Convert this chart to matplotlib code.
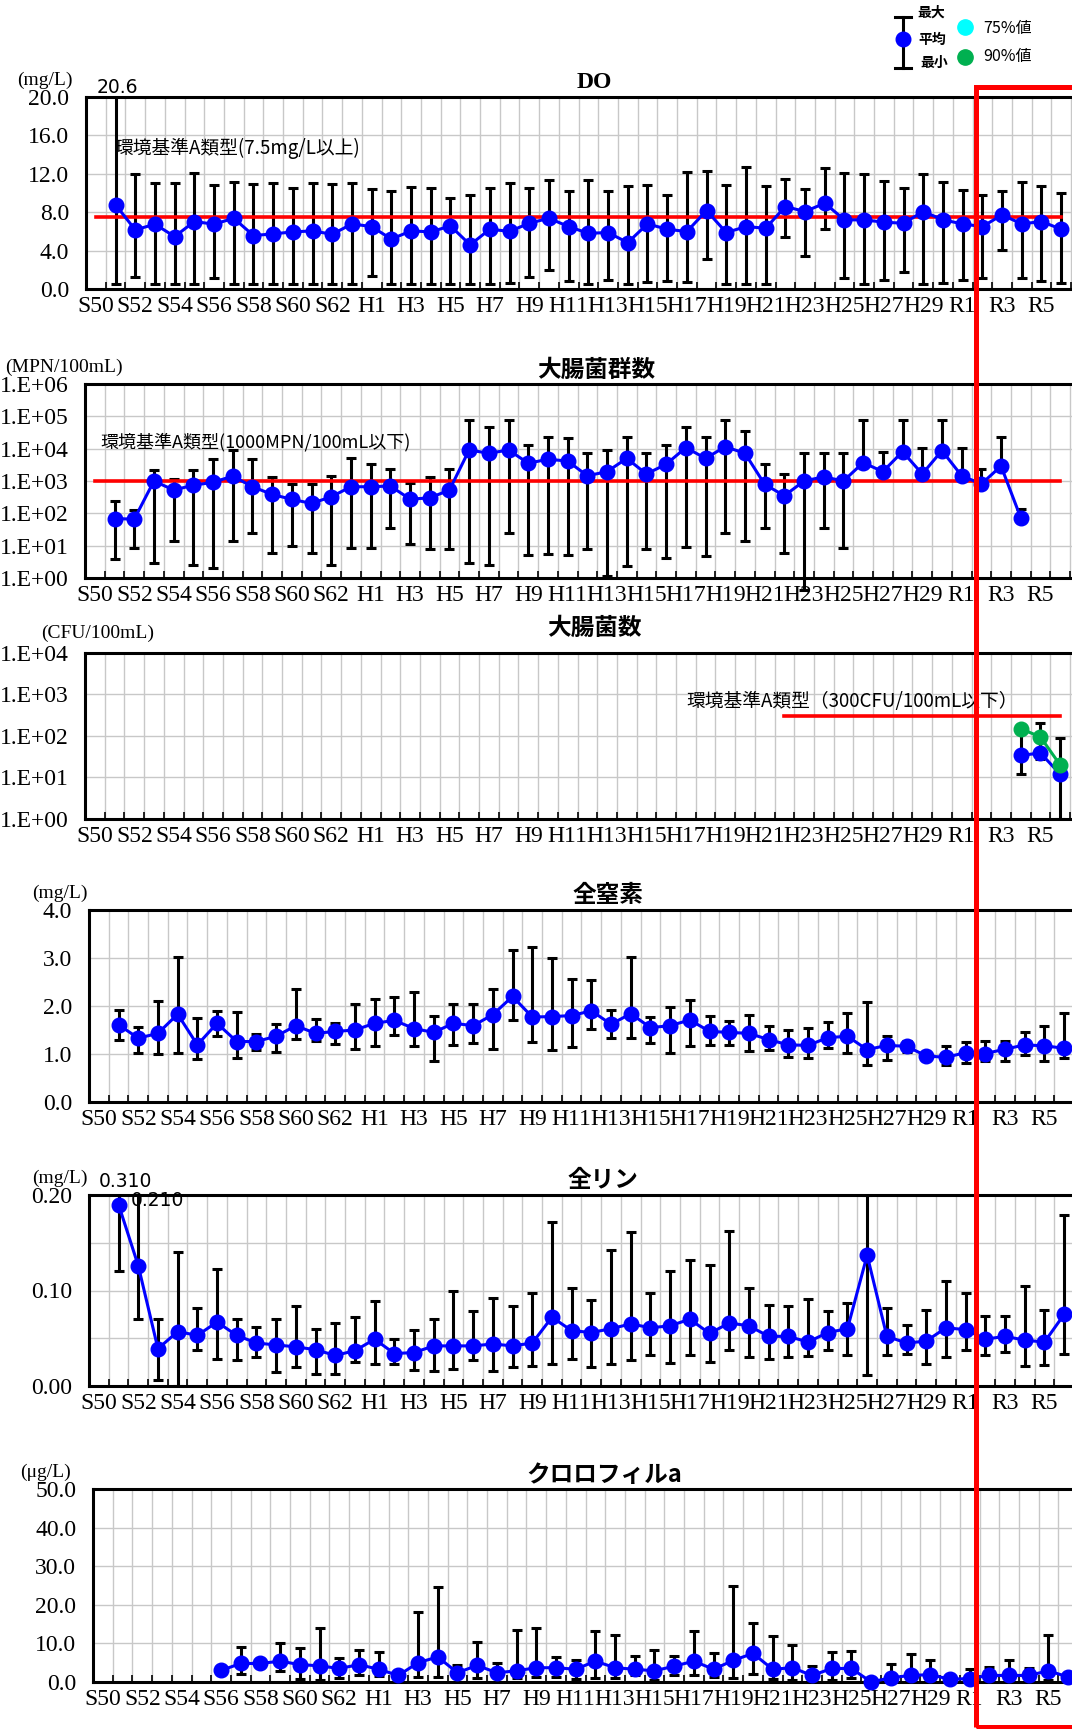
import numpy as np
import matplotlib
matplotlib.use("Agg")
import matplotlib.pyplot as plt
from matplotlib.lines import Line2D
from matplotlib.patches import Rectangle
from matplotlib.ticker import FixedLocator, NullLocator

plt.rcParams["font.family"] = ["Liberation Serif", "Noto Sans CJK JP"]
JP = ["Noto Sans CJK JP", "DejaVu Sans"]

nan = np.nan

# 年度 S50～R6
years = ([f"S{n}" for n in range(50, 64)] + [f"H{n}" for n in range(1, 31)]
         + [f"R{n}" for n in range(1, 7)])

# DO (mg/L)
do_mean = [nan,
           8.77, 6.16, 6.75, 5.46, 7.03, 6.75, 7.37, 5.57, 5.74, 5.95,
           6.05, 5.70, 6.78, 6.50, 5.20, 6.05, 5.95, 6.57, 4.60, 6.23,
           6.00, 6.85, 7.37, 6.50, 5.80, 5.88, 4.83, 6.78, 6.23, 5.98,
           8.17, 5.88, 6.50, 6.33, 8.59, 8.07, 8.94, 7.20, 7.20, 6.96,
           6.85, 8.07, 7.20, 6.78, 6.50, 7.72, 6.78, 7.03, 6.23]
do_max = [nan,
          20.6, 12.0, 11.0, 11.0, 12.1, 10.85, 11.1, 10.95, 11.0, 10.5,
          11.0, 10.9, 11.0, 10.4, 10.2, 10.6, 10.5, 9.46, 9.74, 10.5,
          11.0, 10.5, 11.37, 10.23, 11.37, 10.23, 10.68, 10.85, 9.74, 12.14,
          12.24, 10.85, 12.66, 10.68, 11.48, 10.43, 12.59, 12.07, 11.97, 11.23,
          10.57, 11.97, 11.10, 10.33, 9.81, 10.16, 11.17, 10.68, 9.98]
do_min = [nan,
          0.52, 1.22, 0.52, 0.52, 0.52, 1.10, 0.52, 0.52, 0.52, 0.52,
          0.52, 0.52, 0.52, 1.40, 0.52, 0.52, 0.52, 0.52, 0.52, 0.52,
          0.63, 1.30, 1.98, 0.87, 0.52, 0.94, 0.52, 0.77, 0.87, 0.77,
          3.10, 0.52, 0.52, 0.52, 5.46, 3.44, 6.26, 1.18, 0.52, 0.94,
          1.77, 0.52, 0.59, 0.94, 1.18, 4.07, 1.18, 0.87, 0.66]
do_std = 7.5

# 大腸菌群数 (MPN/100mL)
col_mean = [nan,
            69, 66, 1000, 525, 740, 910, 1420, 665, 385, 270,
            203, 325, 665, 665, 700, 275, 300, 525, 9100, 7200,
            9100, 3550, 4700, 4150, 1450, 1950, 5000, 1650, 3300, 10800,
            5000, 11500, 7200, 790, 350, 1000, 1350, 1000, 3700, 1950,
            8100, 1650, 8700, 1450, 810, 2900, 73, nan, nan]
col_max = [nan,
           240, 126, 2200, 1120, 2200, 4800, 9100, 4800, 1300, 790,
           790, 1420, 5300, 3300, 2300, 890, 1300, 2350, 78000, 48000,
           78000, 13000, 22500, 21000, 7550, 9100, 22500, 7550, 13000, 46000,
           22500, 78000, 34000, 3400, 1650, 7550, 7550, 7550, 78000, 7800,
           78000, 10800, 78000, 10800, 2350, 23500, 132, nan, nan]
col_min = [nan,
           4, 8.5, 3, 13.7, 2.6, 2, 13.7, 24, 6, 9.6,
           6, 2.6, 8.5, 8.7, 34, 11.6, 8, 8, 3, 2.6,
           25, 5.3, 5.4, 5.0, 8.1, 1.15, 2.4, 7.8, 4.3, 9.1,
           4.7, 24, 14, 35, 6, 0.44, 34, 8.5, nan, nan,
           nan, nan, nan, nan, nan, nan, nan, nan, nan]
col_std = 1000

# 大腸菌数 (CFU/100mL) R4～R6
eco_mean = [nan] * 47 + [34, 39, 12]
eco_p90 = [nan] * 47 + [150, 95, 20]
eco_max = [nan] * 47 + [170, 205, 89]
eco_min = [nan] * 47 + [12, 28, 1.0]
eco_std = 300
eco_std_from = "H22"

# 全窒素 (mg/L)
tn_mean = [nan,
           1.61, 1.33, 1.43, 1.83, 1.19, 1.64, 1.26, 1.26, 1.37, 1.59,
           1.43, 1.47, 1.50, 1.64, 1.70, 1.53, 1.45, 1.64, 1.59, 1.82,
           2.20, 1.77, 1.78, 1.80, 1.90, 1.62, 1.84, 1.55, 1.59, 1.71,
           1.47, 1.45, 1.43, 1.30, 1.19, 1.18, 1.34, 1.37, 1.09, 1.18,
           1.16, 0.96, 0.93, 1.03, 1.01, 1.10, 1.19, 1.17, 1.12]
tn_max = [nan,
          1.91, 1.56, 2.11, 3.03, 1.76, 1.89, 1.87, 1.42, 1.63, 2.36,
          1.73, 1.64, 2.04, 2.14, 2.18, 2.29, 1.80, 2.05, 2.05, 2.36,
          3.17, 3.22, 3.00, 2.57, 2.54, 1.92, 3.03, 1.77, 1.98, 2.13,
          1.80, 1.69, 1.82, 1.59, 1.50, 1.55, 1.66, 1.85, 2.09, 1.38,
          1.28, 1.02, 1.17, 1.25, 1.28, 1.28, 1.46, 1.59, 1.86]
tn_min = [nan,
          1.30, 1.02, 1.01, 1.02, 0.89, 1.38, 0.92, 1.09, 1.04, 1.32,
          1.28, 1.21, 1.11, 1.16, 1.40, 1.17, 0.85, 1.19, 1.23, 1.10,
          1.70, 1.26, 1.09, 1.15, 1.52, 1.33, 1.33, 1.23, 1.03, 1.16,
          1.19, 1.18, 1.07, 1.09, 0.94, 0.92, 1.12, 1.03, 0.78, 0.88,
          1.04, 0.90, 0.78, 0.82, 0.85, 0.86, 0.98, 0.85, 0.92]

# 全リン (mg/L)
tp_mean = [nan,
           0.190, 0.126, 0.039, 0.057, 0.053, 0.067, 0.053, 0.045, 0.043, 0.041,
           0.038, 0.032, 0.037, 0.049, 0.034, 0.035, 0.042, 0.042, 0.042, 0.044,
           0.042, 0.045, 0.072, 0.058, 0.056, 0.060, 0.065, 0.061, 0.063, 0.070,
           0.055, 0.066, 0.063, 0.052, 0.052, 0.046, 0.056, 0.060, 0.137, 0.052,
           0.045, 0.047, 0.061, 0.059, 0.049, 0.052, 0.048, 0.046, 0.075]
tp_max = [nan,
          0.310, 0.210, 0.070, 0.140, 0.082, 0.123, 0.070, 0.062, 0.070, 0.084,
          0.060, 0.066, 0.072, 0.089, 0.049, 0.059, 0.070, 0.099, 0.079, 0.092,
          0.084, 0.097, 0.172, 0.103, 0.090, 0.142, 0.161, 0.097, 0.120, 0.132,
          0.127, 0.162, 0.103, 0.085, 0.084, 0.091, 0.079, 0.087, 0.200, 0.082,
          0.064, 0.080, 0.110, 0.097, 0.073, 0.073, 0.105, 0.080, 0.179]
tp_min = [nan,
          0.120, 0.070, 0.006, 0.000, 0.038, 0.028, 0.027, 0.030, 0.015, 0.020,
          0.013, 0.013, 0.025, 0.023, 0.023, 0.017, 0.016, 0.018, 0.027, 0.016,
          0.020, 0.021, 0.023, 0.028, 0.020, 0.023, 0.027, 0.032, 0.024, 0.032,
          0.025, 0.038, 0.030, 0.028, 0.030, 0.031, 0.038, 0.032, 0.012, 0.032,
          0.034, 0.023, 0.030, 0.038, 0.032, 0.036, 0.021, 0.022, 0.033]

# クロロフィルa (μg/L)
chl_mean = ([nan] * 6
            + [3.0, 4.8, 4.8, 5.4, 4.5, 4.2, 3.5, 4.5, 3.3, 1.7, 5.0, 6.5, 2.4, 4.3, 2.4, 2.9]
            + [3.7, 3.7, 3.3, 5.4, 3.7, 3.3, 2.9, 4.1, 5.4, 3.3, 5.6, 7.4, 3.3, 3.7,
               1.7, 3.5, 3.5, 0.0, 1.1, 1.7, 1.9, 0.7, 0.9, 1.7, 1.7, 1.7, 2.9, 1.3])
chl_max = ([nan] * 6
           + [nan, 9.1, nan, 10.0, 8.7, 14.1, 6.1, 8.4, 7.8, nan, 18.2, 24.7, 4.5, 10.4, 4.9, 13.4]
           + [14.0, 6.5, 5.6, 13.2, 12.1, 6.8, 8.4, 6.7, 13.2, 7.4, 24.9, 15.2, 12.0, 9.7,
              4.1, 7.8, 8.0, nan, 4.6, 7.2, 5.6, nan, 3.3, 3.9, 5.6, 3.6, 12.1, nan])
chl_min = ([nan] * 6
           + [nan, 2.2, nan, 2.8, 0.9, 0.6, 1.1, 1.7, 1.6, nan, 1.3, 1.3, nan, 1.0, nan, 1.1]
           + [1.3, 1.3, 0.9, 1.1, 1.1, 1.7, 0.6, 1.9, 1.9, 1.3, 1.1, 2.2, 0.9, 0.6,
              nan, 0.6, 1.0, nan, nan, nan, nan, nan, nan, nan, nan, nan, 0.4, nan])

W, H = 1072, 1729
SLOT = 19.7
BLUE = "#0000ff"
GREEN = "#00b050"
GRID = "#c8c8c8"
TICK_FS = 17
x = np.arange(len(years))

fig = plt.figure(figsize=(W / 100, H / 100), dpi=100)


def fx(v):
    return v / W


def fy(v):
    return 1 - v / H


def ftext(px, py, s, **kw):
    fig.text(fx(px), fy(py), s, va="center", **kw)


def fline(xs, ys, **kw):
    fig.add_artist(Line2D([fx(v) for v in xs], [fy(v) for v in ys],
                          transform=fig.transFigure, **kw))


def panel(left, top, bottom):
    ax = fig.add_axes([fx(left), fy(bottom), 52 * SLOT / W, (bottom - top) / H])
    ax.set_xlim(-0.5, 51.5)
    ax.set_axisbelow(True)
    for s in ax.spines.values():
        s.set_linewidth(2.2)
    ax.xaxis.set_major_locator(FixedLocator(np.arange(0, len(years), 2)))
    ax.set_xticklabels(years[::2])
    ax.xaxis.set_minor_locator(FixedLocator(np.arange(-0.5, 51.6, 1)))
    ax.tick_params(axis="x", which="major", length=0, pad=5, labelsize=TICK_FS)
    ax.tick_params(axis="x", which="minor", direction="in", length=5, width=1.2)
    ax.tick_params(axis="y", which="both", length=0, pad=12, labelsize=TICK_FS)
    ax.grid(which="minor", axis="x", color=GRID, lw=1.0)
    ax.grid(which="major", axis="y", color=GRID, lw=1.0)
    return ax


def lin_y(ax, top, step, fmt):
    ax.set_ylim(0, top)
    ticks = np.arange(0, top + step / 2, step)
    ax.set_yticks(ticks)
    ax.set_yticklabels([fmt.format(t) for t in ticks])


def log_y(ax, decades):
    ax.set_yscale("log")
    ax.set_ylim(1, 10 ** decades)
    ax.set_yticks([10 ** k for k in range(decades + 1)])
    ax.set_yticklabels([f"1.E+{k:02d}" for k in range(decades + 1)])
    ax.yaxis.set_minor_locator(NullLocator())


def draw(ax, mean, lo, hi, clip=True):
    m = np.array(mean, float)
    lo = np.array(lo, float)
    hi = np.array(hi, float)
    err = [np.nan_to_num(m - lo), np.nan_to_num(hi - m)]
    eb = ax.errorbar(x, m, yerr=err, fmt="none", ecolor="black", elinewidth=2.2,
                     capsize=3.5, capthick=2.2, zorder=3)
    for art in list(eb.lines[1]) + list(eb.lines[2]):
        art.set_clip_on(clip)
    ax.plot(x, m, "-o", color=BLUE, lw=2.2, ms=10.5, zorder=5, clip_on=False)


def std_line(ax, value, start=0):
    ax.plot([start, len(years) - 1], [value, value], color="red", lw=2.6, zorder=4)


# DO
ax1 = panel(86, 97, 289)
lin_y(ax1, 20, 4, "{:.1f}")
draw(ax1, do_mean, do_min, do_max)
std_line(ax1, do_std)
ax1.annotate(f"{do_max[1]:.1f}", xy=(1, 1), xycoords=("data", "axes fraction"),
             xytext=(1.5, 7), textcoords="offset points", ha="center", va="center",
             fontsize=13.5, family="DejaVu Sans")
ftext(594, 82, "DO", ha="center", fontsize=17, weight="bold")
ftext(17, 80, "(mg/L)", fontsize=14)
ftext(114, 148, "環境基準A類型(7.5mg/L以上)", fontsize=13.5, family=JP)

# 大腸菌群数
ax2 = panel(85, 384, 578)
log_y(ax2, 6)
draw(ax2, col_mean, col_min, col_max, clip=False)
std_line(ax2, col_std)
ftext(596, 370, "大腸菌群数", ha="center", fontsize=17, weight="bold", family=JP)
ftext(5, 367, "(MPN/100mL)", fontsize=14)
ftext(100, 442, "環境基準A類型(1000MPN/100mL以下)", fontsize=13, family=JP)

# 大腸菌数
ax3 = panel(85, 653, 819)
log_y(ax3, 4)
draw(ax3, eco_mean, eco_min, eco_max)
ax3.plot(x, np.array(eco_p90, float), "-o", color=GREEN, lw=2.2, ms=10.5, zorder=6,
         clip_on=False)
std_line(ax3, eco_std, years.index(eco_std_from))
ftext(594, 628, "大腸菌数", ha="center", fontsize=17, weight="bold", family=JP)
ftext(41, 633, "(CFU/100mL)", fontsize=14)
ftext(686, 702, "環境基準A類型（300CFU/100mL以下）", fontsize=13.5, family=JP)

# 全窒素
ax4 = panel(89, 910, 1102)
lin_y(ax4, 4, 1, "{:.1f}")
draw(ax4, tn_mean, tn_min, tn_max)
ftext(608, 895, "全窒素", ha="center", fontsize=17, weight="bold", family=JP)
ftext(32, 893, "(mg/L)", fontsize=14)

# 全リン
ax5 = panel(89, 1195, 1386)
lin_y(ax5, 0.2, 0.1, "{:.2f}")
ax5.yaxis.set_minor_locator(FixedLocator([0.05, 0.15]))
ax5.grid(which="minor", axis="y", color=GRID, lw=1.0)
draw(ax5, tp_mean, tp_min, tp_max)
ax5.annotate(f"{tp_max[1]:.3f}", xy=(1, 1), xycoords=("data", "axes fraction"),
             xytext=(5, 10), textcoords="offset points", ha="center", va="center",
             fontsize=13.5, family="DejaVu Sans")
ax5.annotate(f"{tp_max[2]:.3f}", xy=(2, 1), xycoords=("data", "axes fraction"),
             xytext=(14, -3.6), textcoords="offset points", ha="center", va="center",
             fontsize=13.5, family="DejaVu Sans")
ftext(603, 1180, "全リン", ha="center", fontsize=17, weight="bold", family=JP)
ftext(32, 1178, "(mg/L)", fontsize=14)

# クロロフィルa
ax6 = panel(93, 1489, 1682)
lin_y(ax6, 50, 10, "{:.1f}")
draw(ax6, chl_mean, chl_min, chl_max)
ftext(604, 1475, "クロロフィルa", ha="center", fontsize=17, weight="bold", family=JP)
ftext(20, 1472, "(μg/L)", fontsize=14)

# 凡例
fline([903, 903], [17, 68], color="black", lw=2.2)
fline([895, 911], [17, 17], color="black", lw=2.2)
fline([895, 911], [68, 68], color="black", lw=2.2)
fline([903], [39], marker="o", ms=10.5, color=BLUE, ls="none")
ftext(917, 13, "最大", fontsize=10, weight="bold", family=JP)
ftext(918, 40, "平均", fontsize=10, weight="bold", family=JP)
ftext(920, 63, "最小", fontsize=10, weight="bold", family=JP)
fline([965], [27], marker="o", ms=11, color="#00ffff", ls="none")
ftext(983, 28, "75%値", fontsize=11.5, family=JP)
fline([965], [57], marker="o", ms=11, color=GREEN, ls="none")
ftext(983, 57, "90%値", fontsize=11.5, family=JP)

# 直近年度の枠
fig.add_artist(Rectangle((fx(976), fy(1727)), fx(1110 - 976), (1727 - 87) / H,
                         transform=fig.transFigure, fill=False, ec="red", lw=3.6,
                         zorder=10))

fig.savefig("out.png", dpi=100)
